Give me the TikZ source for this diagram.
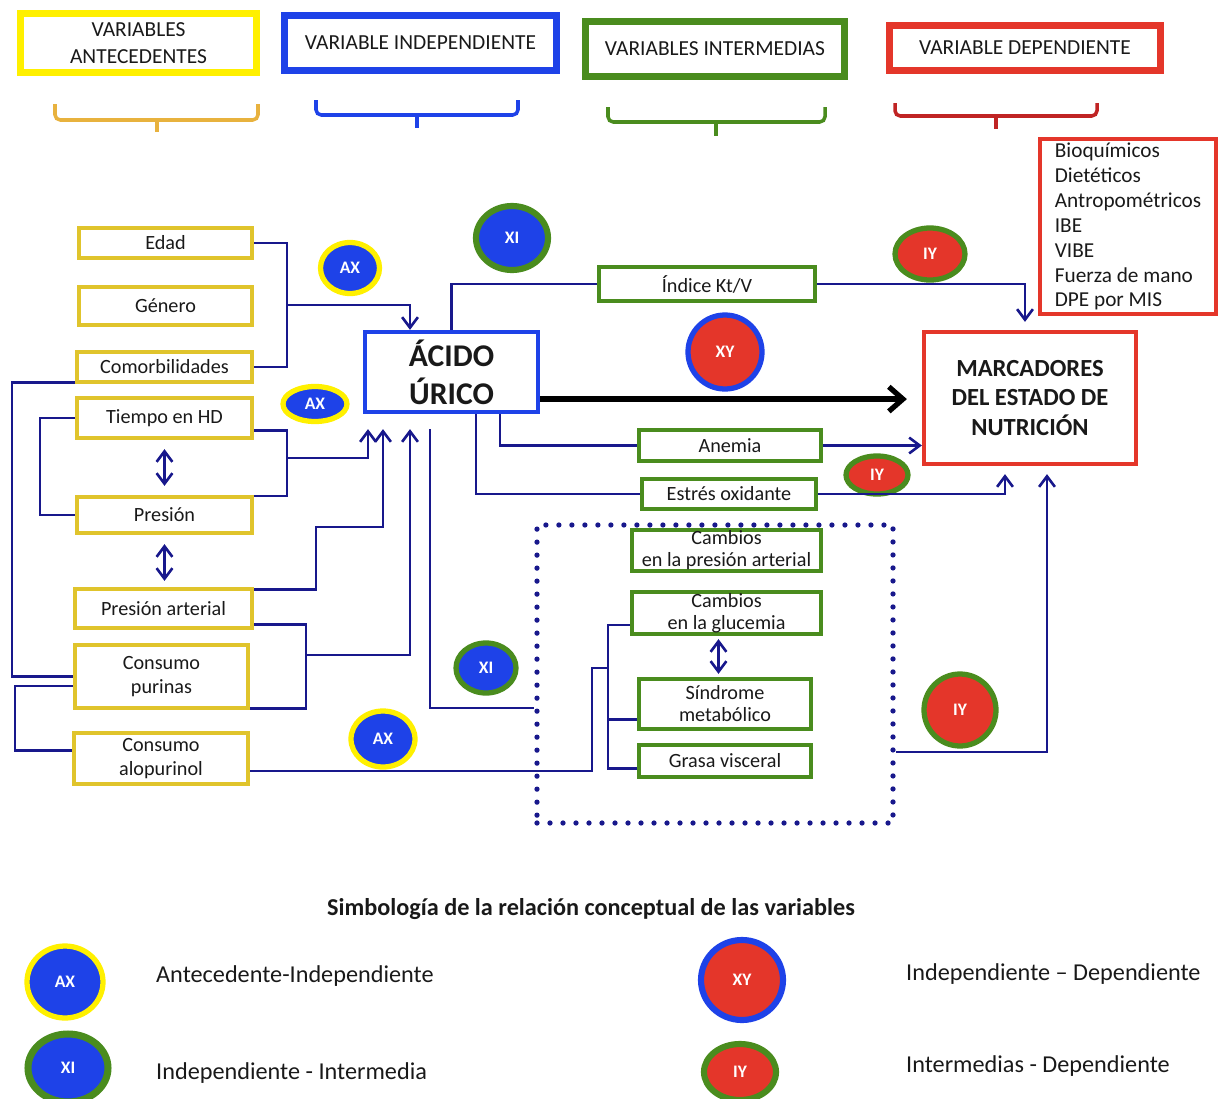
\documentclass[tikz,border=0pt]{standalone}
\usepackage{fontspec}
\setmainfont{Carlito}
\usetikzlibrary{shapes.geometric,arrows.meta}
\definecolor{amarillo}{RGB}{255,240,0}
\definecolor{oro}{RGB}{224,196,44}
\definecolor{azul}{RGB}{30,66,232}
\definecolor{verde}{RGB}{74,140,30}
\definecolor{rojo}{RGB}{228,54,42}
\definecolor{marino}{RGB}{24,24,140}
\definecolor{naranja}{RGB}{232,178,62}
\definecolor{granate}{RGB}{192,36,36}
\definecolor{tinta}{RGB}{25,25,25}
\tikzset{
  sz/.style 2 args={minimum width=#1*0.02cm, minimum height=#2*0.02cm},
  cab/.style={draw, line width=4pt, inner sep=0pt, align=center, text=tinta,
    font=\fontsize{12.2}{15}\selectfont},
  ant/.style={draw=oro, line width=2.4pt, inner sep=0pt, align=center, text=tinta,
    font=\fontsize{11.5}{13.5}\selectfont},
  inter/.style={draw=verde, line width=2.4pt, inner sep=0pt, align=center, text=tinta,
    font=\fontsize{11.5}{12.5}\selectfont},
  con/.style={marino, line width=1.5pt},
  flecha/.style={con, ->},
  doble/.style={con, <->},
  sim/.style={ellipse, line width=3pt, inner sep=0pt, text=white,
    font=\bfseries\fontsize{10}{10}\selectfont},
  ax/.style={sim, draw=amarillo, fill=azul},
  xi/.style={sim, draw=verde, fill=azul},
  xy/.style={sim, draw=azul, fill=rojo},
  iy/.style={sim, draw=verde, fill=rojo},
  llave/.style={line width=2pt, rounded corners=3pt},
  leyenda/.style={anchor=west, text=tinta, font=\fontsize{13.8}{15}\selectfont},
}
\begin{document}
\begin{tikzpicture}[x=0.02cm, y=-0.02cm, >={Straight Barb[length=6pt,width=9pt]}]
\useasboundingbox (0,0) rectangle (1221,1099);

\node[cab, draw=amarillo, sz={236}{59}] (hant) at (138.5,43) {VARIABLES\\ANTECEDENTES};
\node[cab, draw=azul, sz={272}{55}] (hind) at (420.5,43) {VARIABLE INDEPENDIENTE};
\node[cab, draw=verde, sz={259}{55}] (hint) at (715,49) {VARIABLES INTERMEDIAS};
\node[cab, draw=rojo, sz={271}{45}] (hdep) at (1025,48) {VARIABLE DEPENDIENTE};

\draw[llave, naranja] (55,104) |- (258,120) -- (258,104);
\draw[llave, naranja] (157,120) -- (157,132);
\draw[llave, azul] (316,100) |- (518,115) -- (518,100);
\draw[llave, azul] (417,115) -- (417,128);
\draw[llave, verde] (608,107) |- (825,122) -- (825,107);
\draw[llave, verde] (716,122) -- (716,136);
\draw[llave, granate] (895,103) |- (1097,116) -- (1097,103);
\draw[llave, granate] (996,116) -- (996,129);

\node[draw=rojo, line width=2.4pt, sz={176}{175}, inner sep=0pt, align=left, text=tinta,
  font=\fontsize{12.1}{14.2}\selectfont] (lista) at (1128,226.5)
  {Bioquímicos\\Dietéticos\\Antropométricos\\IBE\\VIBE\\Fuerza de mano\\DPE por MIS};

\node[ant, sz={173}{30}] (edad) at (165.5,243) {Edad};
\node[ant, sz={173}{38}] (genero) at (165.5,306) {Género};
\node[ant, sz={175}{30}] (comorb) at (164.5,367) {Comorbilidades};
\node[ant, sz={175}{40}] (tiempo) at (164.5,418) {Tiempo en HD};
\node[ant, sz={175}{36}] (presion) at (164.5,515) {Presión};
\node[ant, sz={177}{39}] (parterial) at (163.5,608.5) {Presión arterial};
\node[ant, sz={173}{63}] (purinas) at (161.5,676.5) {Consumo\\purinas};
\node[ant, sz={174}{51}] (alopurinol) at (161,758.5) {Consumo\\alopurinol};

\node[draw=azul, line width=2.4pt, sz={173}{80}, inner sep=0pt, align=center, text=tinta,
  font=\bfseries\fontsize{18}{21.6}\selectfont] (acido) at (451.5,372) {ÁCIDO\\ÚRICO};
\node[draw=rojo, line width=2.4pt, sz={212}{132}, inner sep=0pt, align=center, text=tinta,
  font=\bfseries\fontsize{14}{16.8}\selectfont] (marc) at (1030,398)
  {MARCADORES\\DEL ESTADO DE\\NUTRICIÓN};

\node[inter, sz={216}{34}] (kt) at (707,284) {Índice Kt/V};
\node[inter, sz={182}{31}] (anemia) at (730,445.5) {Anemia};
\node[inter, sz={174}{30}] (estres) at (729,494) {Estrés oxidante};
\node[draw=marino, line width=3pt, line cap=round, dash pattern=on 0pt off 7.4pt,
  sz={356}{298}] (grupo) at (715,674) {};
\node[inter, sz={189}{41}] (cpresion) at (726.5,550.5) {Cambios\\en la presión arterial};
\node[inter, sz={189}{42}] (cgluc) at (726.5,613) {Cambios\\en la glucemia};
\node[inter, sz={172}{50}] (sindrome) at (725,704) {Síndrome\\metabólico};
\node[inter, sz={172}{32}] (grasa) at (725,761) {Grasa visceral};

\node[ax, sz={59}{51}] (ax1) at (350,268) {AX};
\node[xi, line width=3.5pt, sz={72}{64}] (xi1) at (512,238) {XI};
\node[ax, sz={64}{35}] (ax2) at (315,404) {AX};
\node[xy, sz={74}{74}] (xy1) at (725,352) {XY};
\node[iy, sz={70}{52}] (iy1) at (930,254) {IY};
\node[iy, sz={62}{38}] (iy2) at (877,475) {IY};
\node[xi, sz={60}{50}] (xi2) at (486,668) {XI};
\node[ax, sz={64}{56}] (ax3) at (383,739) {AX};
\node[iy, sz={72}{72}] (iy3) at (960,710) {IY};

\coordinate (b1) at (287,305);
\coordinate (b2) at (287,458);
\coordinate (b3) at (306,655);
\coordinate (xa) at (410,0);
\coordinate (xb) at (368,0);
\coordinate (xc) at (383,0);
\coordinate (xe) at (430,0);
\coordinate (xf) at (12,0);
\coordinate (xg) at (15,0);
\coordinate (xh) at (40,0);
\coordinate (xk) at (500,0);
\coordinate (xl) at (476,0);
\coordinate (t) at (608,668);

\draw[con] (edad.east) -| (b1) |- (comorb.east);
\draw[flecha] (b1) -| (acido.north -| xa);
\draw[con] (tiempo.-8) -| (b2) |- (presion.12);
\draw[flecha, shorten >=0.3cm] (b2) -| (acido.south -| xb);
\draw[flecha, shorten >=0.3cm] (parterial.12) -| (316,527) -| (acido.south -| xc);
\draw[con] (parterial.-10) -| (b3) |- (purinas.-20);
\draw[flecha, shorten >=0.3cm] (b3) -| (acido.south -| xa);
\draw[con] ([yshift=-0.3cm]acido.south -| xe) |- ([yshift=-0.68cm]grupo.west);
\draw[con] (comorb.190) -| (xf |- purinas.west) -- (purinas.west);
\draw[con] (purinas.186) -| (xg |- alopurinol.175) -- (alopurinol.175);
\draw[con] (tiempo.west) -| (xh |- presion.west) -- (presion.west);
\draw[doble, shorten <=0.18cm, shorten >=0.18cm] (tiempo.south) -- (tiempo.south |- presion.north);
\draw[doble, shorten <=0.18cm, shorten >=0.12cm] (presion.south) -- (presion.south |- parterial.north);
\draw[doble, shorten <=0.06cm, shorten >=0.06cm] ([xshift=-0.16cm]cgluc.south) -- ([xshift=-0.16cm]cgluc.south |- sindrome.north);

\draw[con] (alopurinol.-8) -| (592,668) -- (t);
\draw[con] (cgluc.187) -| (t |- grasa.185) -- (grasa.185);
\draw[con] (t |- sindrome.190) -- (sindrome.190);

\draw[con] (acido.north) |- (kt.west);
\draw[flecha, shorten >=0.16cm] (kt.east) -| ([xshift=-0.1cm]marc.north);
\draw[con] (acido.south -| xk) |- (anemia.west);
\draw[flecha] (anemia.east) -- (anemia.east -| marc.west);
\draw[con] (acido.south -| xl) |- (estres.west);
\draw[flecha, shorten >=0.16cm] (estres.east) -| ([xshift=-0.5cm]marc.south);
\draw[line width=3pt, -{Straight Barb[length=8pt,width=14pt]}, shorten >=0.3cm]
  (acido.-17) -- (acido.-17 -| marc.west);
\draw[flecha, shorten >=0.16cm] ([yshift=-1.56cm]grupo.east) -| ([xshift=0.34cm]marc.south);

\node[text=tinta, font=\bfseries\fontsize{13.8}{15}\selectfont] (titulo) at (591,909)
  {Simbología de la relación conceptual de las variables};
\node[ax, sz={76}{72}] (lax) at (65,982) {AX};
\node[leyenda] (tax) at (150,976) {Antecedente-Independiente};
\node[xi, line width=4pt, sz={80}{68}] (lxi) at (68,1068) {XI};
\node[leyenda] (txi) at (150,1073) {Independiente - Intermedia};
\node[xy, line width=3.5pt, sz={82}{80}] (lxy) at (742,980) {XY};
\node[leyenda] (txy) at (900,974) {Independiente -- Dependiente};
\node[iy, line width=3.5pt, sz={72}{56}] (liy) at (740,1072) {IY};
\node[leyenda] (tiy) at (900,1066) {Intermedias - Dependiente};
\end{tikzpicture}
\end{document}
